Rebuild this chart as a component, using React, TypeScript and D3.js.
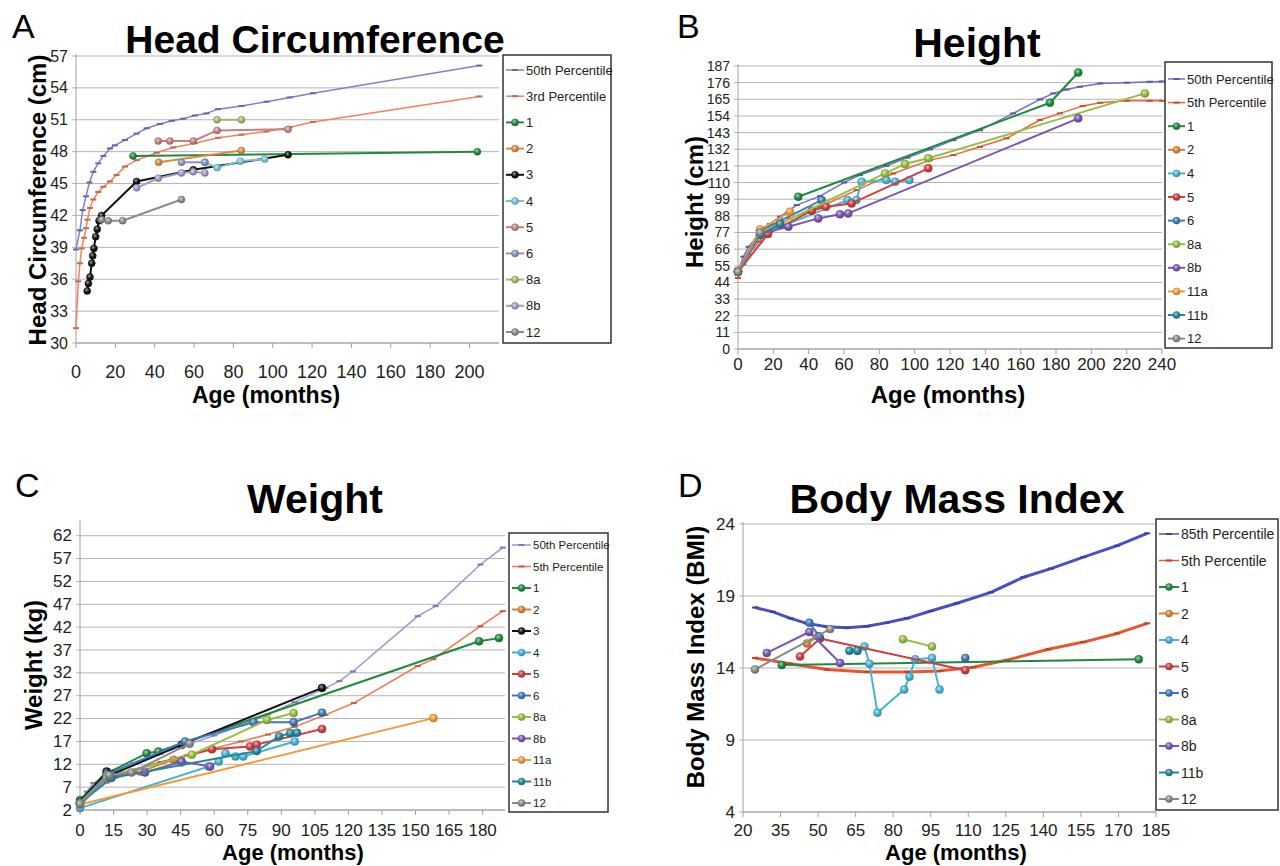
import React from 'react';
import * as d3 from 'd3';

type Pt = [number, number];

// ---------- A: head circumference (months, cm) ----------
const hcP50: Pt[] = [[0, 38.8], [2, 40.6], [3.4, 42.5], [5.1, 43.8], [6.8, 45.1], [8.8, 46.1], [11.3, 46.9], [13.9, 47.6], [17.3, 48.3], [19.8, 48.6], [24.9, 49.1], [30.8, 49.7], [35.9, 50.2], [42.6, 50.6], [48.6, 50.9], [54.5, 51.1], [60.4, 51.4], [66.3, 51.6], [72.2, 52.0], [84.1, 52.3], [96.8, 52.7], [108.6, 53.1], [120.5, 53.5], [205, 56.1]];
const hcP3: Pt[] = [[0, 31.4], [1.2, 35.8], [2, 37.5], [2.9, 38.9], [4.1, 39.9], [5.1, 40.8], [5.8, 41.6], [7.1, 42.7], [8.8, 43.5], [11.3, 44.2], [13.9, 44.7], [17.3, 45.2], [20.6, 45.8], [24.9, 46.6], [30.8, 47.2], [41, 47.9], [49.4, 48.4], [60.4, 48.8], [72.2, 49.3], [84.1, 49.6], [96.8, 49.9], [108.6, 50.3], [120.5, 50.8], [205, 53.2]];
const hc1: Pt[] = [[29, 47.6], [204, 48.0]];
const hc2: Pt[] = [[42, 47.0], [84, 48.1]];
const hc3: Pt[] = [[5.7, 34.9], [6.3, 35.6], [7.1, 36.2], [8.0, 37.5], [8.5, 38.2], [9.1, 38.9], [10.0, 40.0], [10.8, 40.7], [11.7, 41.5], [13.0, 42.0], [30.8, 45.2], [59.6, 46.3], [107.8, 47.7]];
const hc4: Pt[] = [[65.5, 47.0], [71.7, 46.5], [83.6, 47.1], [95.9, 47.3]];
const hc5: Pt[] = [[41.8, 49.0], [47.7, 49.0], [59.6, 49.0], [71.7, 50.0], [107.8, 50.1]];
const hc6: Pt[] = [[53.6, 47.0], [65.5, 47.0]];
const hc8a: Pt[] = [[71.7, 51.0], [84.1, 51.0]];
const hc8b: Pt[] = [[30.8, 44.6], [41.8, 45.5], [53.6, 46.0], [59.6, 46.1], [65.5, 46.0]];
const hc12: Pt[] = [[13.0, 41.6], [16.4, 41.5], [23.7, 41.5], [53.6, 43.5]];

// ---------- B: height (months, cm) ----------
const htP50: Pt[] = [[0, 51.1], [3, 61], [6, 67.5], [12.5, 76.5], [18, 82.5], [23.8, 87.5], [33.2, 95.1], [46.4, 101], [60, 110], [69, 114.9], [84, 121], [96, 126.5], [108.7, 131.9], [121.9, 138], [137, 144.6], [155.8, 155.7], [170.9, 164.9], [178.5, 168.9], [186, 171.5], [193.5, 173.3], [205, 175.5], [220, 176], [233, 176.6], [240, 176.8]];
const htP5: Pt[] = [[0, 46.9], [3, 56], [6, 62.5], [12, 71], [16.2, 76.4], [29.4, 86.3], [46.4, 94], [67.2, 105], [87.9, 116], [108.7, 124.8], [121.9, 128.1], [137, 133.6], [152, 139.2], [170.9, 151.3], [182.2, 155.7], [195, 160.5], [205, 162.7], [220, 164], [233, 164], [240, 164]];
const ht1: Pt[] = [[34.1, 100.6], [176.6, 162.7], [192.6, 182.7]];
const ht2: Pt[] = [[0, 51.5], [12.5, 78.5], [24, 84]];
const ht4: Pt[] = [[0, 51], [12.5, 75.3], [62, 98.4], [67, 98.4], [70, 110.5], [84, 111.6], [89, 110.5], [97, 111.6]];
const ht5: Pt[] = [[0, 51], [17, 76], [41.7, 91.4], [49.8, 94], [64.3, 96.2], [107.7, 119.4]];
const ht6: Pt[] = [[0, 51.5], [12.5, 78], [47.3, 98.4]];
const ht8a: Pt[] = [[0, 51], [12.5, 76.5], [83.2, 116], [94.5, 122.2], [107.7, 126], [230.3, 168.9]];
const ht8b: Pt[] = [[0, 51], [12.5, 76], [28.5, 80.8], [45.4, 86.3], [57.7, 89], [62.4, 89.6], [192.6, 152.4]];
const ht11a: Pt[] = [[0, 51.5], [12.5, 79], [29.4, 90.7]];
const ht11b: Pt[] = [[0, 51], [12.5, 75.3], [23.8, 82.6]];
const ht12: Pt[] = [[0, 51], [12.5, 77]];

// ---------- C: weight (months, kg) ----------
const wtP50: Pt[] = [[0, 3.5], [3, 6], [6, 7.9], [12, 9.6], [18, 10.9], [24, 12.2], [36, 14.3], [48, 16.3], [60, 18.3], [72, 20.5], [84, 22.9], [96, 25.6], [109.7, 28.7], [116, 30.2], [122, 32.3], [151, 44.4], [159, 46.6], [179, 55.7], [189, 59.4]];
const wtP5: Pt[] = [[0, 2.7], [6, 6.2], [12, 8], [24, 10.6], [36, 12.5], [48, 14], [60, 15.5], [72, 17], [84, 18.5], [96, 20.2], [109.7, 22.8], [122.4, 25.4], [151, 33.5], [158, 35], [179, 42.2], [189, 45.5]];
const wt1: Pt[] = [[0, 4.2], [12, 10], [29.8, 14.4], [35, 14.8], [178.4, 38.9], [187.3, 39.6]];
const wt2: Pt[] = [[0, 3.4], [13, 9.6], [27, 10.4], [41.8, 13.0], [45.4, 12.4]];
const wt3: Pt[] = [[0, 3.8], [11.9, 10.4], [14.9, 9.9], [45.5, 16.3], [108.2, 28.7]];
const wt4: Pt[] = [[0, 2.4], [57.5, 11.5], [62, 12.6], [65, 14.4], [69.5, 13.7], [73, 13.7], [96, 17.0]];
const wt5: Pt[] = [[0, 3.5], [12, 9.3], [59, 15.3], [76, 15.9], [79, 16.3], [108.2, 19.7]];
const wt6: Pt[] = [[0, 3.6], [12, 9.8], [47, 17.0], [77.6, 21.2], [95.5, 21.2], [108.2, 23.3]];
const wt8a: Pt[] = [[0, 3.6], [12, 9.2], [50, 14.1], [83.6, 21.7], [95.5, 23.2]];
const wt8b: Pt[] = [[0, 3.3], [13, 9.5], [29.1, 10.2], [45.4, 12.6], [58.2, 11.5]];
const wt11a: Pt[] = [[0, 3.2], [158, 22.1]];
const wt11b: Pt[] = [[0, 3.4], [14, 9], [79, 14.9], [89, 18.1], [94, 18.8], [97, 18.9]];
const wt12: Pt[] = [[0, 3.4], [13, 9.6], [23, 10.2], [49, 16.5]];

// ---------- D: BMI (months, kg/m2) ----------
const bmiP85: Pt[] = [[24.8, 18.2], [32, 17.9], [39, 17.45], [45.5, 17.1], [53.5, 16.87], [61.5, 16.8], [69.5, 16.9], [77.5, 17.15], [85.5, 17.45], [95, 17.96], [105.5, 18.5], [119, 19.25], [132, 20.3], [143, 20.9], [156, 21.7], [169.5, 22.5], [181.5, 23.35]];
const bmiP5: Pt[] = [[24.8, 14.7], [38.8, 14.3], [53.5, 13.9], [69.5, 13.73], [85.5, 13.73], [98.8, 13.8], [112, 14.05], [125.5, 14.55], [142, 15.3], [156, 15.8], [169.5, 16.4], [181.5, 17.1]];
const bmi1: Pt[] = [[35.5, 14.2], [178.1, 14.6]];
const bmi2: Pt[] = [[45.5, 15.7], [50, 16.2]];
const bmi4: Pt[] = [[65.7, 15.2], [68.5, 15.5], [70.5, 14.3], [73.7, 10.9], [84.4, 12.5], [86.5, 13.4], [88.8, 14.6], [95.5, 14.7], [98.5, 12.5]];
const bmi5: Pt[] = [[42.8, 14.8], [50.8, 16.05], [108.8, 13.85]];
const bmi6: Pt[] = [[46.5, 17.15], [50.5, 16.2], [80, NaN], [108.8, 14.7]];
const bmi8a: Pt[] = [[83.9, 16.0], [95.5, 15.5]];
const bmi8b: Pt[] = [[29.5, 15.05], [46.5, 16.5], [58.8, 14.35]];
const bmi11b: Pt[] = [[62.5, 15.2], [65.7, 15.2]];
const bmi12: Pt[] = [[24.8, 13.9], [54.8, 16.7]];

// tick values
const hcXTicks = d3.range(0, 201, 20);
const hcYTicks = d3.range(30, 58, 3);
const htXTicks = d3.range(0, 241, 20);
const htYTicks = d3.range(0, 188, 11);
const wtXTicks = d3.range(0, 181, 15);
const wtYTicks = d3.range(2, 63, 5);
const bmiXTicks = d3.range(20, 186, 15);
const bmiYTicks = d3.range(4, 25, 5);

const FONT = '"Liberation Sans", Arial, Helvetica, sans-serif';

const pale = { p50: '#7c82d2', plow: '#f3825f', s1: '#23893f', s2: '#d98c3c', s3: '#111111', s4: '#7cc0d6', s5: '#c88080', s6: '#8496c0', s8a: '#aab66c', s8b: '#a29ac8', s12: '#8c8c8c' };
const vivid = { p50: '#6d70cc', plow: '#f0643e', s1: '#1f8a3c', s2: '#d4843a', s3: '#111111', s4: '#45b3d6', s5: '#cf3f3f', s6: '#3f79bb', s8a: '#97bf3f', s8b: '#7b56b3', s11a: '#f39a3a', s11b: '#23879a', s12: '#8a8a8a' };

interface Series { label: string; color: string; data: Pt[]; pct?: boolean }

interface PanelProps {
  letter: string; letterX: number; letterY: number;
  title: string; titleX: number; titleY: number; titleSize: number;
  left: number; right: number; top: number; bottom: number;
  xDomain: [number, number]; yDomain: [number, number];
  xTicks: number[]; yTicks: number[];
  xTickY: number; xTickSize: number; yTickSize: number;
  yLabel: string; yLabelX: number; yLabelY: number;
  xLabelX: number; xLabelY: number; xLabelSize: number;
  legend: { x: number; y: number; w: number; h: number; first: number; step: number; size: number; len: number };
  series: Series[];
  pctWidth: number; lineWidth: number; r: number;
}

const gid = (c: string) => 'sph' + c.replace('#', '');

function Marker({ cx, cy, color, r, pct }: { cx: number; cy: number; color: string; r: number; pct?: boolean }) {
  if (pct) {
    return <rect x={cx - 3} y={cy - 1} width={6} height={2} fill={d3.color(color)!.darker(0.6).toString()} />;
  }
  return <circle cx={cx} cy={cy} r={r} fill={`url(#${gid(color)})`} stroke={d3.color(color)!.darker(0.8).toString()} strokeWidth={0.5} />;
}

function Panel(p: PanelProps) {
  const x = d3.scaleLinear().domain(p.xDomain).range([p.left, p.right]);
  const y = d3.scaleLinear().domain(p.yDomain).range([p.bottom, p.top]);
  const line = d3.line<Pt>().defined(d => !isNaN(d[1])).x(d => x(d[0])).y(d => y(d[1]));
  const lg = p.legend;
  return (
    <g fontFamily={FONT}>
      <text x={p.letterX} y={p.letterY} fontSize={34}>{p.letter}</text>
      <text x={p.titleX} y={p.titleY} fontSize={p.titleSize} fontWeight="bold" textAnchor="middle">{p.title}</text>

      {/* grid + axes */}
      {p.yTicks.map(t => (
        <g key={'gy' + t}>
          <line x1={p.left - 4} x2={p.right} y1={y(t)} y2={y(t)} stroke="#b4b4b4" strokeWidth={1} />
          <text x={p.left - 8} y={y(t)} fontSize={p.yTickSize} textAnchor="end" dominantBaseline="central" fill="#222">{t}</text>
        </g>
      ))}
      <line x1={p.left} x2={p.left} y1={p.top - 2} y2={p.bottom} stroke="#a0a0a0" />
      <line x1={p.left} x2={p.right} y1={p.bottom} y2={p.bottom} stroke="#a0a0a0" />
      {p.xTicks.map(t => (
        <g key={'gx' + t}>
          <line x1={x(t)} x2={x(t)} y1={p.bottom} y2={p.bottom + 5} stroke="#a0a0a0" />
          <text x={x(t)} y={p.xTickY} fontSize={p.xTickSize} textAnchor="middle" fill="#222">{t}</text>
        </g>
      ))}

      <text transform={`translate(${p.yLabelX},${p.yLabelY}) rotate(-90)`} fontSize={24} fontWeight="bold" textAnchor="middle" dominantBaseline="central">{p.yLabel}</text>
      <text x={p.xLabelX} y={p.xLabelY} fontSize={p.xLabelSize} fontWeight="bold" textAnchor="middle">Age (months)</text>

      {/* series */}
      {p.series.map(s => (
        <g key={s.label}>
          <path d={line(s.data) || ''} fill="none" stroke={s.color} strokeWidth={s.pct ? p.pctWidth : p.lineWidth} strokeLinejoin="round" />
          {s.data.filter(d => !isNaN(d[1])).map((d, i) => (
            <Marker key={i} cx={x(d[0])} cy={y(d[1])} color={s.color} r={p.r} pct={s.pct} />
          ))}
        </g>
      ))}

      {/* legend */}
      <rect x={lg.x} y={lg.y} width={lg.w} height={lg.h} fill="#fff" stroke="#333" strokeWidth={1.5} />
      {p.series.map((s, i) => {
        const cy = lg.first + i * lg.step;
        const x0 = lg.x + 3;
        return (
          <g key={'lg' + s.label}>
            <line x1={x0} x2={x0 + lg.len} y1={cy} y2={cy} stroke={s.color} strokeWidth={s.pct ? 1.5 : 2} />
            <Marker cx={x0 + lg.len / 2} cy={cy} color={s.color} r={3.5} pct={s.pct} />
            <text x={x0 + lg.len + 2} y={cy} fontSize={lg.size} dominantBaseline="central" fill="#222">{s.label}</text>
          </g>
        );
      })}
    </g>
  );
}

const seriesA: Series[] = [
  { label: '50th Percentile', color: pale.p50, data: hcP50, pct: true },
  { label: '3rd Percentile', color: pale.plow, data: hcP3, pct: true },
  { label: '1', color: pale.s1, data: hc1 },
  { label: '2', color: pale.s2, data: hc2 },
  { label: '3', color: pale.s3, data: hc3 },
  { label: '4', color: pale.s4, data: hc4 },
  { label: '5', color: pale.s5, data: hc5 },
  { label: '6', color: pale.s6, data: hc6 },
  { label: '8a', color: pale.s8a, data: hc8a },
  { label: '8b', color: pale.s8b, data: hc8b },
  { label: '12', color: pale.s12, data: hc12 },
];

const seriesB: Series[] = [
  { label: '50th Percentile', color: vivid.p50, data: htP50, pct: true },
  { label: '5th Percentile', color: vivid.plow, data: htP5, pct: true },
  { label: '1', color: vivid.s1, data: ht1 },
  { label: '2', color: vivid.s2, data: ht2 },
  { label: '4', color: vivid.s4, data: ht4 },
  { label: '5', color: vivid.s5, data: ht5 },
  { label: '6', color: vivid.s6, data: ht6 },
  { label: '8a', color: vivid.s8a, data: ht8a },
  { label: '8b', color: vivid.s8b, data: ht8b },
  { label: '11a', color: vivid.s11a, data: ht11a },
  { label: '11b', color: vivid.s11b, data: ht11b },
  { label: '12', color: vivid.s12, data: ht12 },
];

const seriesC: Series[] = [
  { label: '50th Percentile', color: '#9a96da', data: wtP50, pct: true },
  { label: '5th Percentile', color: '#f2794f', data: wtP5, pct: true },
  { label: '1', color: vivid.s1, data: wt1 },
  { label: '2', color: vivid.s2, data: wt2 },
  { label: '3', color: vivid.s3, data: wt3 },
  { label: '4', color: vivid.s4, data: wt4 },
  { label: '5', color: vivid.s5, data: wt5 },
  { label: '6', color: vivid.s6, data: wt6 },
  { label: '8a', color: vivid.s8a, data: wt8a },
  { label: '8b', color: vivid.s8b, data: wt8b },
  { label: '11a', color: vivid.s11a, data: wt11a },
  { label: '11b', color: vivid.s11b, data: wt11b },
  { label: '12', color: vivid.s12, data: wt12 },
];

const seriesD: Series[] = [
  { label: '85th Percentile', color: '#4c4fc4', data: bmiP85, pct: true },
  { label: '5th Percentile', color: '#e8562f', data: bmiP5, pct: true },
  { label: '1', color: vivid.s1, data: bmi1 },
  { label: '2', color: vivid.s2, data: bmi2 },
  { label: '4', color: vivid.s4, data: bmi4 },
  { label: '5', color: vivid.s5, data: bmi5 },
  { label: '6', color: vivid.s6, data: bmi6 },
  { label: '8a', color: vivid.s8a, data: bmi8a },
  { label: '8b', color: vivid.s8b, data: bmi8b },
  { label: '11b', color: vivid.s11b, data: bmi11b },
  { label: '12', color: vivid.s12, data: bmi12 },
];

export default function App() {
  const colors = Array.from(new Set([...seriesA, ...seriesB, ...seriesC, ...seriesD].map(s => s.color)));
  return (
    <div style={{ position: 'absolute', left: 0, top: 0, width: 1280, height: 866, background: '#fff' }}>
      <svg width={1280} height={866} style={{ display: 'block' }}>
        <defs>
          {colors.map(c => (
            <radialGradient key={c} id={gid(c)} cx="40%" cy="35%" r="65%">
              <stop offset="0%" stopColor={d3.interpolateRgb(c, '#ffffff')(0.6)} />
              <stop offset="55%" stopColor={c} />
              <stop offset="100%" stopColor={d3.color(c)!.darker(0.7).toString()} />
            </radialGradient>
          ))}
        </defs>

        <Panel letter="A" letterX={12} letterY={38} title="Head Circumference" titleX={315} titleY={53} titleSize={39}
          left={76} right={499} top={56} bottom={343} xDomain={[0, 215]} yDomain={[30, 57]}
          xTicks={hcXTicks} yTicks={hcYTicks} xTickY={378} xTickSize={18} yTickSize={16}
          yLabel="Head Circumference (cm)" yLabelX={37} yLabelY={200} xLabelX={266} xLabelY={403} xLabelSize={23}
          legend={{ x: 503, y: 55, w: 108, h: 288, first: 70, step: 26.2, size: 13, len: 18 }}
          series={seriesA} pctWidth={1.5} lineWidth={2} r={3.5} />

        <Panel letter="B" letterX={677} letterY={38} title="Height" titleX={977} titleY={57} titleSize={41}
          left={738} right={1162} top={66} bottom={349} xDomain={[0, 240]} yDomain={[0, 187]}
          xTicks={htXTicks} yTicks={htYTicks} xTickY={370} xTickSize={17} yTickSize={14}
          yLabel="Height (cm)" yLabelX={694} yLabelY={202} xLabelX={948} xLabelY={403} xLabelSize={24}
          legend={{ x: 1165, y: 62, w: 107, h: 286, first: 79, step: 23.6, size: 13, len: 17 }}
          series={seriesB} pctWidth={1.5} lineWidth={2} r={4} />

        <Panel letter="C" letterX={15} letterY={497} title="Weight" titleX={315} titleY={513} titleSize={41}
          left={80} right={505} top={522} bottom={810} xDomain={[0, 190]} yDomain={[2, 65]}
          xTicks={wtXTicks} yTicks={wtYTicks} xTickY={836} xTickSize={17} yTickSize={17}
          yLabel="Weight (kg)" yLabelX={33} yLabelY={665} xLabelX={293} xLabelY={860} xLabelSize={22}
          legend={{ x: 509, y: 533, w: 99, h: 279, first: 545, step: 21.5, size: 11.5, len: 19 }}
          series={seriesC} pctWidth={1.5} lineWidth={2} r={4} />

        <Panel letter="D" letterX={678} letterY={497} title="Body Mass Index" titleX={957} titleY={513} titleSize={41}
          left={743} right={1156} top={524} bottom={812} xDomain={[20, 185]} yDomain={[4, 24]}
          xTicks={bmiXTicks} yTicks={bmiYTicks} xTickY={836} xTickSize={17} yTickSize={17}
          yLabel="Body Mass Index (BMI)" yLabelX={695} yLabelY={657} xLabelX={956} xLabelY={860} xLabelSize={22}
          legend={{ x: 1156, y: 519, w: 122, h: 291, first: 534, step: 26.5, size: 14, len: 20 }}
          series={seriesD} pctWidth={3} lineWidth={2} r={4} />
      </svg>
    </div>
  );
}
